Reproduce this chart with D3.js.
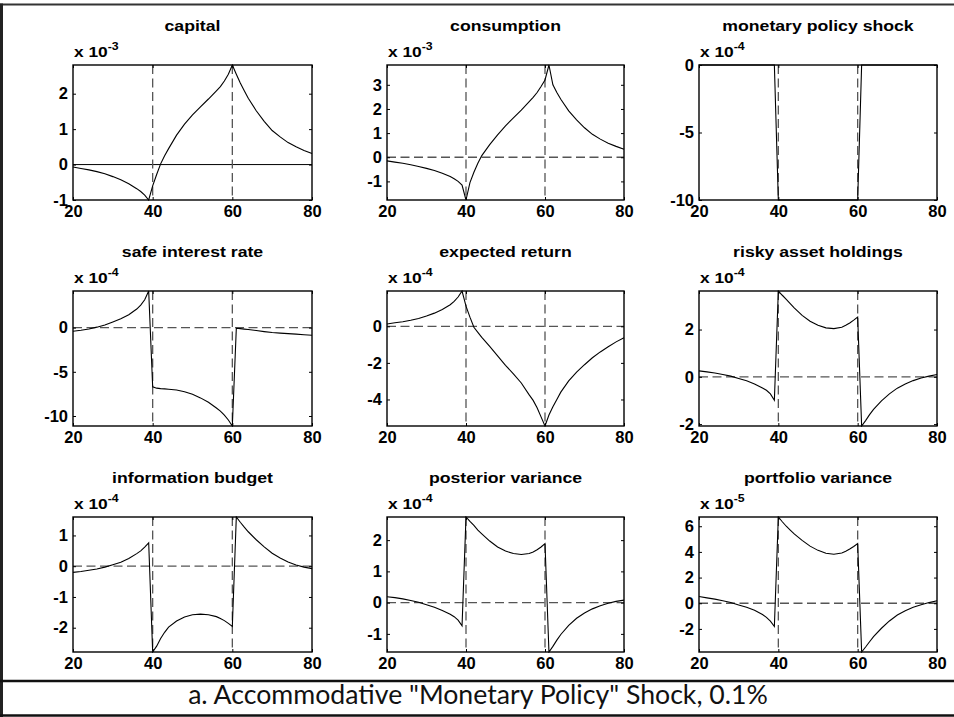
<!DOCTYPE html>
<html><head><meta charset="utf-8">
<script src="https://cdn.jsdelivr.net/npm/d3@7"></script>
<style>body{margin:0;background:#fff}svg{display:block}
.hv{font-family:"Liberation Sans",Arial,Helvetica,sans-serif;font-weight:bold}
</style>
</head><body>
<svg id="c" width="954" height="717"></svg>
<script>
// ---------- data ----------
const periods = [20,22,24,26,28,30,32,34,36,37,38,39,40,41,42,43,44,46,48,50,52,54,56,57,58,59,60,61,62,63,64,66,68,70,72,74,76,78,80];

const capital = [-0.07,-0.11,-0.15,-0.2,-0.26,-0.34,-0.43,-0.54,-0.68,-0.76,-0.86,-1.0,
  -0.6,-0.28,0.02,0.25,0.45, 0.83,1.14,1.40,1.63,1.85,2.08, 2.2,2.36,2.55,2.81,2.55,2.3,2.08,1.87,
  1.52,1.22,0.96,0.78,0.62,0.5,0.4,0.31];
const consumption = [-0.15,-0.2,-0.25,-0.31,-0.38,-0.46,-0.55,-0.66,-0.8,-0.89,-1.0,-1.15,
  -1.77,-1.05,-0.62,-0.25,0.07, 0.52,0.93,1.3,1.63,1.95,2.3, 2.48,2.68,2.93,3.2,3.82,3.0,2.68,2.4,
  1.92,1.55,1.22,0.95,0.75,0.58,0.45,0.33];
const policyShock = [0,0,0,0,0,0,0,0,0,0,0,0,
  -10,-10,-10,-10,-10, -10,-10,-10,-10,-10,-10, -10,-10,-10,-10,0,0,0,0,
  0,0,0,0,0,0,0,0];
const safeRate = [-0.41,-0.3,-0.15,0.05,0.3,0.64,1.0,1.45,2.1,2.55,3.15,4.14,
  -6.7,-6.85,-6.9,-6.93,-6.97, -7.05,-7.25,-7.55,-7.95,-8.45,-9.1, -9.45,-9.9,-10.45,-11.13,-0.08,-0.12,-0.17,-0.22,
  -0.33,-0.45,-0.55,-0.62,-0.68,-0.74,-0.8,-0.86];
const expectedReturn = [0.13,0.19,0.25,0.33,0.43,0.56,0.72,0.92,1.18,1.36,1.6,1.93,
  1.1,0.5,-0.05,-0.33,-0.6, -1.1,-1.62,-2.13,-2.6,-3.1,-3.75, -4.05,-4.45,-4.95,-5.45,-4.85,-4.4,-4.0,-3.6,
  -2.98,-2.5,-2.1,-1.72,-1.4,-1.12,-0.85,-0.62];
const riskyHoldings = [0.25,0.21,0.16,0.1,0.03,-0.07,-0.17,-0.3,-0.47,-0.57,-0.72,-0.99,
  3.63,3.45,3.28,3.1,2.92, 2.6,2.35,2.18,2.07,2.04,2.1, 2.18,2.28,2.4,2.53,-2.08,-1.85,-1.6,-1.38,
  -1.02,-0.72,-0.48,-0.3,-0.16,-0.05,0.03,0.1];
const infoBudget = [-0.2,-0.17,-0.13,-0.09,-0.03,0.05,0.13,0.25,0.41,0.5,0.62,0.76,
  -2.79,-2.6,-2.35,-2.15,-1.98, -1.78,-1.65,-1.58,-1.56,-1.58,-1.64, -1.7,-1.77,-1.86,-1.96,1.6,1.43,1.27,1.12,
  0.86,0.63,0.42,0.27,0.14,0.04,-0.03,-0.08];
const posteriorVar = [0.19,0.16,0.12,0.07,0.01,-0.07,-0.15,-0.25,-0.37,-0.45,-0.56,-0.74,
  2.74,2.6,2.47,2.32,2.2, 1.97,1.78,1.65,1.57,1.54,1.57, 1.62,1.69,1.78,1.89,-1.58,-1.4,-1.2,-1.02,
  -0.73,-0.5,-0.33,-0.2,-0.1,-0.02,0.04,0.08];
const portfolioVar = [0.52,0.42,0.32,0.2,0.06,-0.13,-0.32,-0.55,-0.88,-1.1,-1.4,-1.81,
  6.72,6.35,6.0,5.7,5.4, 4.9,4.45,4.12,3.9,3.82,3.92, 4.05,4.22,4.42,4.65,-3.8,-3.41,-3.0,-2.6,
  -1.95,-1.38,-0.92,-0.58,-0.32,-0.12,0.05,0.2];

const titles = ["capital","consumption","monetary policy shock","safe interest rate","expected return",
  "risky asset holdings","information budget","posterior variance","portfolio variance"];
const exponents = ["-3","-3","-4","-4","-4","-4","-4","-4","-5"];
const yLimits = [[-1,2.81],[-1.77,3.82],[-10,0],[-11.13,4.14],[-5.45,1.93],[-2.08,3.63],[-2.79,1.6],[-1.58,2.74],[-3.8,6.72]];
const yTicks = [[-1,0,1,2],[-1,0,1,2,3],[-10,-5,0],[-10,-5,0],[-4,-2,0],[-2,0,2],[-2,-1,0,1],[-1,0,1,2],[-2,0,2,4,6]];
const zeroStyle = ["solid","dashed","none","dashed","dashed","dashed","dashed","dashed","dashed"];
const xTicks = [20,40,60,80];
const shockDates = [40,60];
const caption = 'a. Accommodative "Monetary Policy" Shock, 0.1%';

const seriesList = [capital,consumption,policyShock,safeRate,expectedReturn,riskyHoldings,infoBudget,posteriorVar,portfolioVar];

// ---------- drawing ----------
const svg = d3.select("#c");
const colX = [[73,312],[387,624],[699,937]];
const rowY = [[65,200],[291,426],[517,652]];
const defs = svg.append("defs");

seriesList.forEach((vals, i) => {
  const [x0, x1] = colX[i % 3];
  const [y0, y1] = rowY[Math.floor(i / 3)];
  const x = d3.scaleLinear().domain([20, 80]).range([x0, x1]);
  const y = d3.scaleLinear().domain(yLimits[i]).range([y1, y0]);
  const g = svg.append("g");

  defs.append("clipPath").attr("id", "clip" + i).append("rect")
    .attr("x", x0 - 1).attr("y", y0 - 1).attr("width", x1 - x0 + 2).attr("height", y1 - y0 + 2);

  if (zeroStyle[i] !== "none") {
    g.append("line").attr("x1", x0).attr("x2", x1).attr("y1", y(0)).attr("y2", y(0))
      .attr("stroke", zeroStyle[i] === "solid" ? "#000" : "#555")
      .attr("stroke-width", zeroStyle[i] === "solid" ? 1 : 1.3)
      .attr("stroke-dasharray", zeroStyle[i] === "solid" ? null : "9,4.5");
  }
  shockDates.forEach(d => {
    g.append("line").attr("x1", x(d)).attr("x2", x(d)).attr("y1", y0).attr("y2", y1)
      .attr("stroke", "#555").attr("stroke-width", 1.3).attr("stroke-dasharray", "9,4.5");
  });
  const pts = periods.map((t, k) => [t, vals[k]]);
  g.append("path").datum(pts)
    .attr("clip-path", `url(#clip${i})`)
    .attr("d", d3.line().x(d => x(d[0])).y(d => y(d[1])))
    .attr("fill", "none").attr("stroke", "#000").attr("stroke-width", 1.1);

  const fmt = d => String(d);
  g.append("g").attr("transform", `translate(${x0},0)`)
    .call(d3.axisLeft(y).tickValues(yTicks[i]).tickSize(-3).tickPadding(5).tickFormat(fmt));
  g.append("g").attr("transform", `translate(${x1},0)`)
    .call(d3.axisRight(y).tickValues(yTicks[i]).tickSize(-3).tickFormat(""));
  g.append("g").attr("transform", `translate(0,${y1})`)
    .call(d3.axisBottom(x).tickValues(xTicks).tickSize(-3).tickPadding(5).tickFormat(fmt));
  g.append("g").attr("transform", `translate(0,${y0})`)
    .call(d3.axisTop(x).tickValues(xTicks).tickSize(-3).tickFormat(""));
  g.selectAll(".domain").remove();
  g.selectAll(".tick line").attr("stroke", "#000").attr("stroke-width", 1);
  g.selectAll(".tick text").attr("class", "hv").attr("font-family", null)
    .style("font-size", "16.5px").attr("fill", "#000");

  g.append("rect").attr("x", x0).attr("y", y0).attr("width", x1 - x0).attr("height", y1 - y0)
    .attr("fill", "none").attr("stroke", "#000").attr("stroke-width", 1.4);

  g.append("text").attr("class", "hv")
    .attr("transform", `translate(${(x0 + x1) / 2},${y0 - 34}) scale(1.14,1)`)
    .attr("text-anchor", "middle").style("font-size", "15.5px").text(titles[i]);

  const ex = g.append("text").attr("class", "hv")
    .attr("transform", `translate(${x0 + 1},${y0 - 8}) scale(1.12,1)`)
    .style("font-size", "15.5px");
  ex.append("tspan").text("x 10");
  ex.append("tspan").attr("dy", -7).style("font-size", "11px").text(exponents[i]);
});

// frame
svg.append("line").attr("x1", 0).attr("x2", 954).attr("y1", 4.5).attr("y2", 4.5)
  .attr("stroke", "#333").attr("stroke-width", 2);
svg.append("line").attr("x1", 1.5).attr("x2", 1.5).attr("y1", 3.5).attr("y2", 717)
  .attr("stroke", "#222").attr("stroke-width", 3);
svg.append("line").attr("x1", 0).attr("x2", 954).attr("y1", 681).attr("y2", 681)
  .attr("stroke", "#111").attr("stroke-width", 2.5);
svg.append("line").attr("x1", 0).attr("x2", 954).attr("y1", 715.5).attr("y2", 715.5)
  .attr("stroke", "#111").attr("stroke-width", 2.5);

// caption
const cap = svg.append("text").attr("x", 478).attr("y", 703.5).attr("text-anchor", "middle")
  .style("font-family", "Lato, 'Open Sans', sans-serif").style("font-size", "24px").attr("fill", "#111")
  .text(caption);
const w = cap.node().getComputedTextLength();
if (w > 0) cap.style("font-size", (24 * 580 / w) + "px");
</script>
</body></html>
